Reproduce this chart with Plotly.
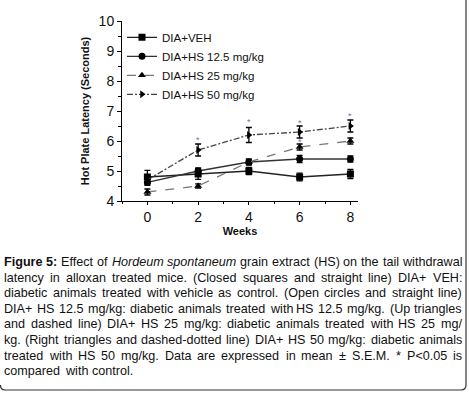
import re
import plotly.graph_objects as go

weeks = [0, 2, 4, 6, 8]
names = ["DIA+VEH", "DIA+HS 12.5 mg/kg", "DIA+HS 25 mg/kg", "DIA+HS 50 mg/kg"]
veh = [4.8, 4.9, 5.0, 4.8, 4.9]
veh_err = [0.22, 0.18, 0.12, 0.13, 0.15]
hs125 = [4.62, 5.0, 5.3, 5.4, 5.4]
hs125_err = [0.1, 0.1, 0.1, 0.12, 0.1]
hs25 = [4.3, 4.5, 5.3, 5.8, 6.0]
hs25_err = [0.1, 0.07, 0.08, 0.1, 0.1]
hs50 = [4.7, 5.7, 6.2, 6.3, 6.5]
hs50_err = [0.12, 0.2, 0.25, 0.2, 0.2]
# significance marks (x, y)
stars_x = [2, 4, 6, 6, 8]
stars_y = [6.02, 6.63, 6.6, 5.98, 6.85]

caption_lines = [
    "<b>Figure</b> <b>5:</b> Effect of <i>Hordeum</i> <i>spontaneum</i> grain extract (HS) on the tail withdrawal",
    "latency in alloxan treated mice. (Closed squares and straight line) DIA+ VEH:",
    "diabetic animals treated with vehicle as control. (Open circles and straight line)",
    "DIA+ HS 12.5 mg/kg: diabetic animals treated with HS 12.5 mg/kg. (Up triangles",
    "and dashed line) DIA+ HS 25 mg/kg: diabetic animals treated with HS 25 mg/",
    "kg. (Right triangles and dashed-dotted line) DIA+ HS 50 mg/kg: diabetic animals",
    "treated with HS 50 mg/kg. Data are expressed in mean \u00b1 S.E.M. * P<0.05 is",
    "compared with control.",
]

# Arial / Liberation Sans advance widths (per 1000 em)
REG = {' ': 278, '(': 333, ')': 333, '*': 389, '+': 584, ',': 278, '-': 333, '.': 278,
       '/': 278, ':': 278, '<': 584, '\u00b1': 584,
       'A': 667, 'C': 722, 'D': 722, 'E': 667, 'F': 611, 'H': 722, 'I': 278, 'M': 833,
       'O': 778, 'P': 667, 'R': 722, 'S': 667, 'U': 722, 'V': 667,
       'a': 556, 'b': 556, 'c': 500, 'd': 556, 'e': 556, 'f': 278, 'g': 556, 'h': 556,
       'i': 222, 'j': 222, 'k': 500, 'l': 222, 'm': 833, 'n': 556, 'o': 556, 'p': 556,
       'q': 556, 'r': 333, 's': 500, 't': 278, 'u': 556, 'v': 500, 'w': 722, 'x': 500,
       'y': 500, 'z': 500}
for d in "0123456789":
    REG[d] = 556
BOLD = dict(REG)
BOLD.update({'i': 278, 'g': 611, 'u': 611, 'r': 389, ':': 333})

W, H = 469, 393
L, R, T, B = 122, 111, 21, 192
pw, ph = W - L - R, H - T - B


def fx(x):
    return (x - L) / pw


def fy(y):
    return (H - B - y) / ph


def word_width(tok, size):
    table = BOLD if tok.startswith("<b>") else REG
    plain = re.sub(r"<[^>]+>", "", tok)
    return sum(table.get(c, 556) for c in plain) * size / 1000.0


fig = go.Figure()
series = [
    (veh, veh_err, "square", "solid", "#222222"),
    (hs125, hs125_err, "circle", "solid", "#333333"),
    (hs25, hs25_err, "triangle-up", "dash", "#777777"),
    (hs50, hs50_err, "triangle-right", "6px,2px,2px,2px", "#444444"),
]
for name, (vals, err, sym, dash, lc) in zip(names, series):
    fig.add_trace(go.Scatter(
        x=weeks, y=vals, name=name, mode="lines+markers",
        line=dict(color=lc, width=1.3, dash=dash),
        marker=dict(symbol=sym, size=7, color="black"),
        error_y=dict(type="data", array=err, color="black", thickness=1.3, width=3),
    ))

for sx, sy in zip(stars_x, stars_y):
    fig.add_annotation(x=sx, y=sy, text="*", showarrow=False,
                       font=dict(size=9, color="#6677aa", family="Liberation Sans"))

# justified caption, word by word
FS = 12.6
left_x, right_x = 4, 462
line_h = 15.6
for i, line in enumerate(caption_lines):
    words = line.split(" ")
    widths = [word_width(w, FS) for w in words]
    y = fy(262 + i * line_h)
    if i < len(caption_lines) - 1 and len(words) > 1:
        gap = (right_x - left_x - sum(widths)) / (len(words) - 1)
    else:
        gap = 278 * FS / 1000.0 + 1.5
    xcur = left_x
    for w, wd in zip(words, widths):
        fig.add_annotation(xref="paper", yref="paper", x=fx(xcur), y=y,
                           xanchor="left", yanchor="middle", text=w, showarrow=False,
                           borderpad=0, borderwidth=0,
                           font=dict(size=FS, color="#111111", family="Liberation Sans"))
        xcur += wd + gap

# frame of caption box (right and bottom edges, rounded corners)
r = 5
path = (f"M {fx(466)},{fy(0)} L {fx(466)},{fy(390 - r)} "
        f"Q {fx(466)},{fy(390)} {fx(466 - r)},{fy(390)} "
        f"L {fx(r)},{fy(390)} Q {fx(0.5)},{fy(390)} {fx(0.5)},{fy(390 - r)}")
fig.add_shape(type="path", xref="paper", yref="paper", path=path,
              line=dict(color="#333333", width=1.2))

fig.update_layout(
    width=W, height=H,
    margin=dict(l=L, r=R, t=T, b=B),
    paper_bgcolor="white", plot_bgcolor="white",
    font=dict(family="Liberation Sans", color="#111111"),
    showlegend=True,
    legend=dict(x=0.0, y=0.99, xanchor="left", yanchor="top",
                bgcolor="rgba(0,0,0,0)", font=dict(size=11.5),
                tracegroupgap=0, itemwidth=30),
    xaxis=dict(range=[-1, 8.3], tickvals=[0, 2, 4, 6, 8], showline=True,
               linecolor="black", linewidth=1, ticks="outside", ticklen=3,
               tickcolor="black", showgrid=False, zeroline=False,
               minor=dict(tickvals=[-1, 1, 3, 5, 7], ticks="outside", ticklen=2, tickcolor="black"),
               tickfont=dict(size=14),
               title=dict(text="<b>Weeks</b>", font=dict(size=11), standoff=3)),
    yaxis=dict(range=[4, 10], dtick=1, showline=True, linecolor="black", linewidth=1,
               ticks="outside", ticklen=4, tickcolor="black", showgrid=False,
               zeroline=False,
               minor=dict(dtick=0.5, ticks="outside", ticklen=3, tickcolor="black"),
               tickfont=dict(size=14),
               title=dict(text="<b>Hot Plate Latency (Seconds)</b>", font=dict(size=11), standoff=6)),
)

fig.write_html(
    "out.html",
    config={"displayModeBar": False},
    post_script="document.body.style.margin='0';document.body.style.overflow='hidden';",
)
